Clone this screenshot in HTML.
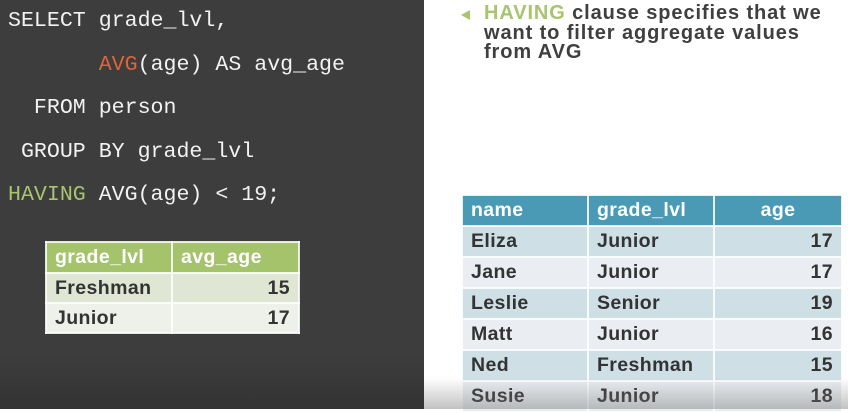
<!DOCTYPE html>
<html><head><meta charset="utf-8"><style>
html,body{margin:0;padding:0;width:848px;height:409px;overflow:hidden;background:#fff;font-family:"Liberation Sans",sans-serif}
#left{position:absolute;left:0;top:0;width:424px;height:409px;background:linear-gradient(#3d3d3d 0,#3d3d3d 355px,#333 409px)}
.code{position:absolute;left:8px;font-family:"Liberation Mono",monospace;font-size:21.6px;color:#f2f2f2;white-space:pre;line-height:24px}
.red{color:#e0633a}.grn{color:#a8c46e}
table{position:absolute;border-collapse:collapse;font-weight:bold;font-size:19.5px;table-layout:fixed;letter-spacing:0.4px}
td{padding:0 8px;height:29px;border:2px solid rgba(255,255,255,0.85);box-sizing:border-box}
#t1{left:45px;top:241px;width:253px;color:#333}
#t1 .h td{background:#a5c36a;color:#fff;height:31px}
#t1 .r1 td{background:#dfe6d3;height:30px}#t1 .r2 td{background:#eef1ea;height:30px}
#t2{left:461px;top:194px;width:380px;color:#333}
#t2 .h td{background:#4a9ab5;color:#fff;height:31px}
#t2 .o td{background:#cfdfe6;height:31px}#t2 .e td{background:#eaeef2;height:31px}
.num{text-align:right}
#note{position:absolute;left:484px;top:4px;width:356px;font-weight:bold;font-size:20px;letter-spacing:0.9px;line-height:19.5px;color:#3f3f3f}
#arrow{position:absolute;left:461px;top:10px;width:0;height:0;border-top:5px solid transparent;border-bottom:5px solid transparent;border-right:9px solid #a8c46e}
#shade{position:absolute;left:424px;top:378px;width:424px;height:31px;background:linear-gradient(rgba(120,120,120,0),rgba(120,120,120,0.45))}
</style></head><body>
<div id="left">
<div class="code" style="top:9px">SELECT grade_lvl,</div>
<div class="code" style="top:53px">       <span class="red">AVG</span>(age) AS avg_age</div>
<div class="code" style="top:96px">  FROM person</div>
<div class="code" style="top:140px"> GROUP BY grade_lvl</div>
<div class="code" style="top:183px"><span class="grn">HAVING</span> AVG(age) &lt; 19;</div>
<table id="t1">
<colgroup><col style="width:126px"><col style="width:127px"></colgroup>
<tr class="h"><td>grade_lvl</td><td>avg_age</td></tr>
<tr class="r1"><td>Freshman</td><td class="num">15</td></tr>
<tr class="r2"><td>Junior</td><td class="num">17</td></tr>
</table>
</div>
<div id="arrow"></div>
<div id="note"><span class="grn">HAVING</span> clause specifies that we want to filter aggregate values from AVG</div>
<table id="t2">
<colgroup><col style="width:126px"><col style="width:126px"><col style="width:128px"></colgroup>
<tr class="h"><td>name</td><td>grade_lvl</td><td style="text-align:center">age</td></tr>
<tr class="o"><td>Eliza</td><td>Junior</td><td class="num">17</td></tr>
<tr class="e"><td>Jane</td><td>Junior</td><td class="num">17</td></tr>
<tr class="o"><td>Leslie</td><td>Senior</td><td class="num">19</td></tr>
<tr class="e"><td>Matt</td><td>Junior</td><td class="num">16</td></tr>
<tr class="o"><td>Ned</td><td>Freshman</td><td class="num">15</td></tr>
<tr class="e"><td>Susie</td><td>Junior</td><td class="num">18</td></tr>
</table>
<div id="shade"></div>
</body></html>
